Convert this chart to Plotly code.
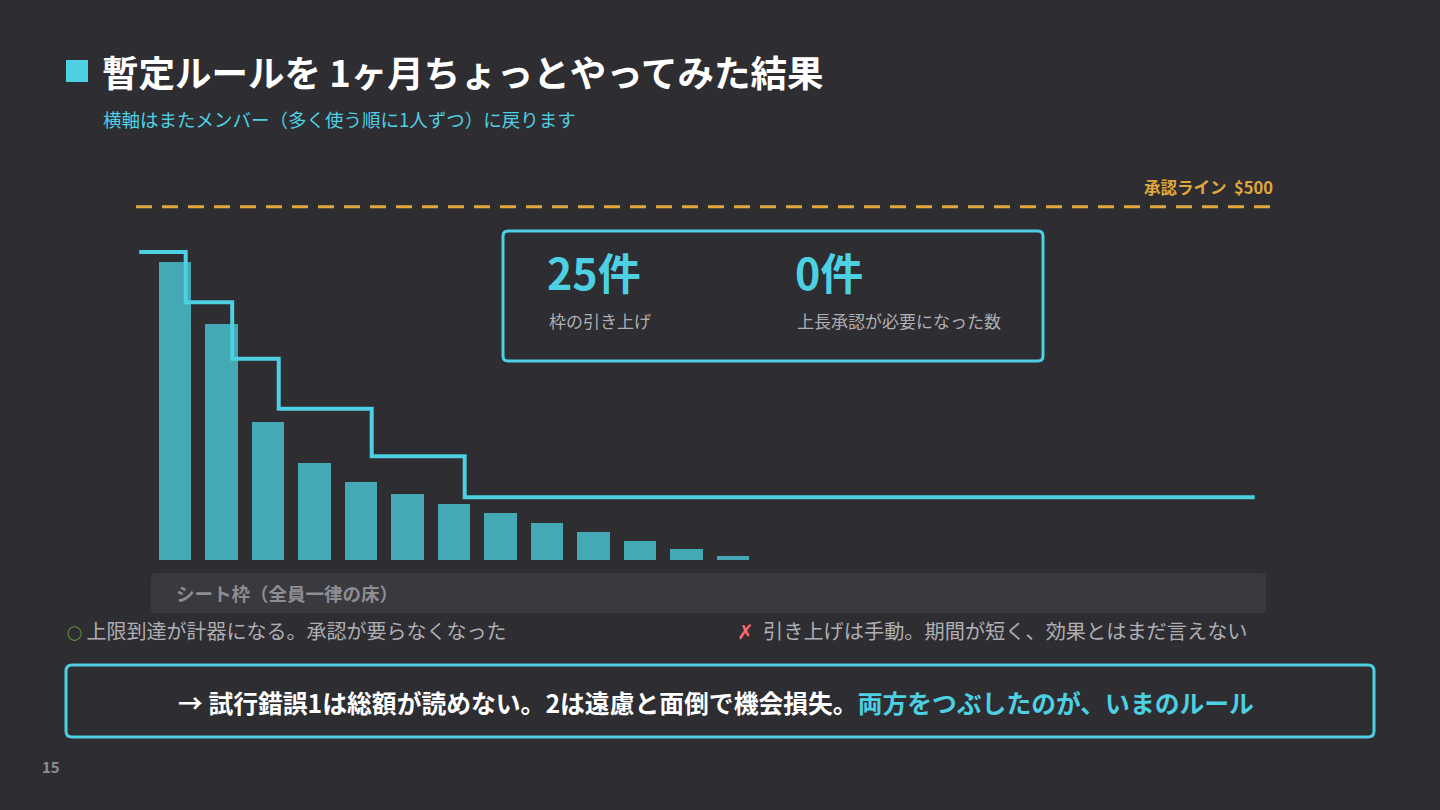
import plotly.graph_objects as go

W, H = 1440, 810

# 横軸: メンバー（多く使う順に1人ずつ）
members = list(range(13))
spend = [422, 334, 196, 137, 111, 93, 79, 66, 53, 40, 27, 15, 6]

# 個人枠（引き上げ後）の階段
limit_x = [-0.77, 0.23, 1.23, 2.23, 4.23, 6.23, 23.22]
limit_y = [436, 365, 285, 214, 147, 89, 89]

approval_line = 500
kpi_values = ["25件", "0件"]
kpi_labels = ["枠の引き上げ", "上長承認が必要になった数"]

BG = "#2E2D32"
CYAN = "#4DD0E1"
BAR = "#45A8B5"
ORANGE = "#E0A83C"
GRAY = "#AFAFB3"
FONT = "Noto Sans CJK JP"


def px(x):
    return x / W


def py(y):
    return 1 - y / H


def rrect(x0, y0, x1, y1, r):
    rx, ry = r / W, r / H
    X0, X1, Y0, Y1 = px(x0), px(x1), py(y0), py(y1)
    return (f"M {X0 + rx},{Y0} L {X1 - rx},{Y0} Q {X1},{Y0} {X1},{Y0 - ry} "
            f"L {X1},{Y1 + ry} Q {X1},{Y1} {X1 - rx},{Y1} L {X0 + rx},{Y1} "
            f"Q {X0},{Y1} {X0},{Y1 + ry} L {X0},{Y0 - ry} Q {X0},{Y0} {X0 + rx},{Y0} Z")


fig = go.Figure()

fig.add_trace(go.Bar(x=members, y=spend, width=0.69, marker_color=BAR,
                     marker_line_width=0, hoverinfo="skip"))
fig.add_trace(go.Scatter(x=limit_x, y=limit_y, mode="lines", line_shape="hv",
                         line=dict(color=CYAN, width=4), hoverinfo="skip"))

shapes = [
    # 承認ライン
    dict(type="line", xref="x domain", yref="y", x0=0, x1=1,
         y0=approval_line, y1=approval_line,
         line=dict(color=ORANGE, width=3, dash="16px,10px")),
    # シート枠の帯
    dict(type="path", xref="paper", yref="paper", path=rrect(151, 573, 1266, 613, 4),
         fillcolor="#3A393E", line=dict(width=0), layer="below"),
    # KPI box
    dict(type="path", xref="paper", yref="paper", path=rrect(503, 231, 1043, 361, 5),
         line=dict(color=CYAN, width=3)),
    # 結論 box
    dict(type="path", xref="paper", yref="paper", path=rrect(66, 665, 1374, 737, 6),
         line=dict(color=CYAN, width=3)),
    # title marker
    dict(type="rect", xref="paper", yref="paper", x0=px(66), x1=px(88),
         y0=py(60), y1=py(82), fillcolor=CYAN, line=dict(width=0)),
]


def txt(x, y, text, size, color, bold=False, xanchor="left"):
    if bold:
        text = f"<b>{text}</b>"
    return dict(x=px(x), y=py(y), xref="paper", yref="paper", text=text,
                showarrow=False, xanchor=xanchor, yanchor="middle",
                font=dict(family=FONT, size=size, color=color))


annotations = [
    txt(100, 71, "暫定ルールを 1ヶ月ちょっとやってみた結果", 36.5, "#FFFFFF", bold=True),
    txt(101, 119, "横軸はまたメンバー（多く使う順に1人ずつ）に戻ります", 18.5, CYAN),
    txt(1275, 187, "承認ライン\u00a0\u00a0$500", 16.5, ORANGE, bold=True, xanchor="right"),
    txt(545, 271, kpi_values[0], 43, CYAN, bold=True),
    txt(793, 271, kpi_values[1], 43, CYAN, bold=True),
    txt(547, 320, kpi_labels[0], 17, GRAY),
    txt(795, 320, kpi_labels[1], 17, GRAY),
    txt(174, 593, "シート枠（全員一律の床）", 18.5, "#8E8D92", bold=True),
    txt(65, 630, "<span style='color:#8BC34A;font-size:15px'>○</span>\u00a0上限到達が計器になる。承認が要らなくなった",
        20, GRAY),
    txt(735, 630, "<span style='color:#FF6B6B'>✗</span>\u00a0\u00a0引き上げは手動。期間が短く、効果とはまだ言えない",
        20.2, GRAY),
    txt(716, 702, "→ 試行錯誤1は総額が読めない。2は遠慮と面倒で機会損失。"
                  f"<span style='color:{CYAN}'>両方をつぶしたのが、いまのルール</span>",
        24.8, "#FFFFFF", bold=True, xanchor="center"),
    txt(40, 766, "15", 15, "#8E8D92", bold=True),
]

fig.update_layout(
    width=W, height=H,
    margin=dict(l=0, r=0, t=0, b=0),
    paper_bgcolor=BG, plot_bgcolor=BG,
    showlegend=False,
    bargap=0,
    shapes=shapes,
    annotations=annotations,
    xaxis=dict(domain=[px(136), px(1275)], range=[-0.839, 23.656],
               visible=False, fixedrange=True),
    yaxis=dict(domain=[py(560), py(180)], range=[0, 538],
               visible=False, fixedrange=True),
)
fig.update_traces(cliponaxis=False)

fig.write_html("out.html", config=dict(displayModeBar=False),
               post_script="document.body.style.margin='0';"
                           f"document.body.style.background='{BG}';")
